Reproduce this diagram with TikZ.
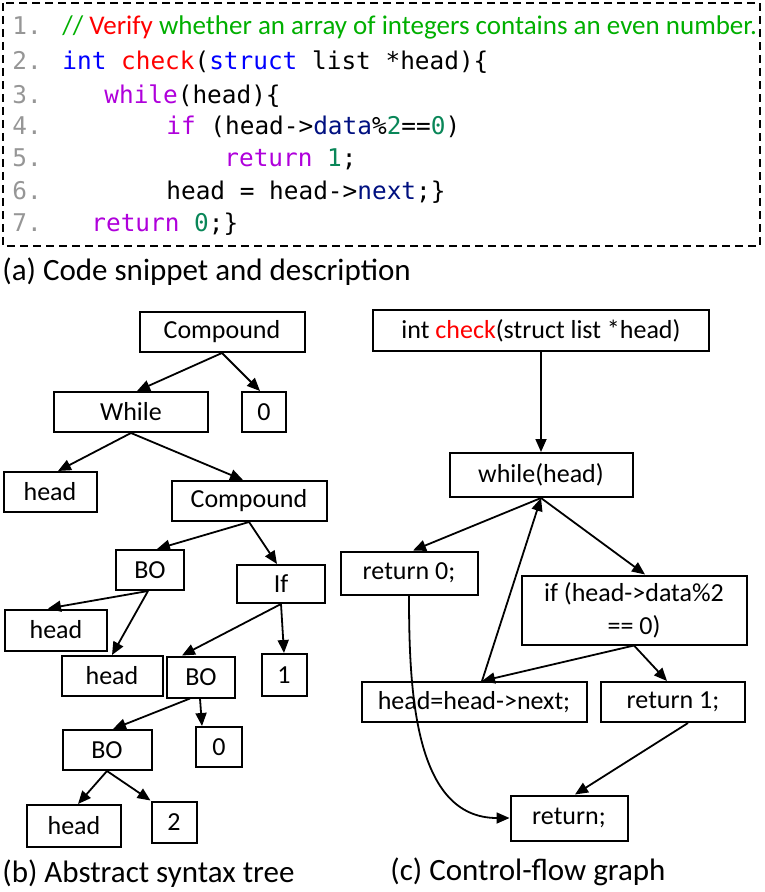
\documentclass[tikz,border=0pt]{standalone}
\usepackage{fontspec}
\setmainfont{Carlito}
\newfontfamily\codefont{DejaVu Sans Mono}
\usetikzlibrary{arrows.meta}
\definecolor{kwblue}{RGB}{0,0,255}
\definecolor{kwpurple}{RGB}{175,0,219}
\definecolor{fieldblue}{RGB}{0,16,128}
\definecolor{numgreen}{RGB}{9,134,88}
\definecolor{cmtgreen}{RGB}{0,175,0}
\definecolor{lngray}{RGB}{150,150,150}
\newcommand{\kw}[1]{\textcolor{kwpurple}{#1}}
\newcommand{\num}[1]{\textcolor{numgreen}{#1}}

\begin{document}
\begin{tikzpicture}[
    x=0.5pt, y=-0.5pt,
    box/.style={draw, line width=1pt, inner sep=0pt, minimum height=20pt, font=\fontsize{13}{16.5}\selectfont},
    arrow/.style={-{Triangle[length=6.5pt,width=5.5pt]}, line width=0.9pt},
    code/.style={anchor=base west, inner sep=0pt, font=\codefont\fontsize{12.2}{14}\selectfont},
    lineno/.style={code, text=lngray},
    caption/.style={anchor=west, inner sep=0pt, font=\fontsize{15.5}{18}\selectfont}
  ]
\useasboundingbox (0,0) rectangle (764,892);

% (a) code snippet
\draw[line width=1pt, dash pattern=on 4pt off 2.5pt] (3,3) rectangle (760,246);
\foreach \n/\y in {1/35,2/70,3/104,4/135,5/167,6/200,7/232}
  \node[lineno] (ln\n) at (12,\y) {\n.};
\node[anchor=base west, inner sep=0pt, font=\fontsize{13.5}{15}\selectfont, text=cmtgreen] (cmt) at (62,35)
  {// \textcolor{red}{Verify} whether an array of integers contains an even number.};
\node[code] (cl2) at (62,70) {\textcolor{kwblue}{int} \textcolor{red}{check}(\textcolor{kwblue}{struct} list *head)\{};
\node[code] (cl3) at (104,104) {\kw{while}(head)\{};
\node[code] (cl4) at (166,135) {\kw{if} (head->\textcolor{fieldblue}{data}\%\num{2}==\num{0})};
\node[code] (cl5) at (224,167) {\kw{return} \num{1};};
\node[code] (cl6) at (166,200) {head = head->\textcolor{fieldblue}{next};\}};
\node[code] (cl7) at (91,232) {\kw{return} \num{0};\}};
\node[caption] (capa) at (2,272) {(a) Code snippet and description};

% (b) abstract syntax tree
\node[box, minimum width=82.5pt] (cmpA) at (222,332) {Compound};
\node[box, minimum width=77pt] (whileA) at (131,412) {While};
\node[box, minimum width=22pt] (zeroA) at (264,412) {0};
\node[box, minimum width=46.5pt] (headA) at (50,492) {head};
\node[box, minimum width=77.5pt] (cmpB) at (249,501) {Compound};
\node[box, minimum width=34pt] (boA) at (150,570) {BO};
\node[box, minimum width=44pt, minimum height=19pt] (ifA) at (281,584) {If};
\node[box, minimum width=51pt, minimum height=20.5pt] (headB) at (56,630) {head};
\node[box, minimum width=50.5pt] (headC) at (112,676) {head};
\node[box, minimum width=34pt, minimum height=20.5pt] (boB) at (201,677) {BO};
\node[box, minimum width=22.5pt, minimum height=21pt] (oneA) at (284,675) {1};
\node[box, minimum width=23pt] (zeroB) at (219,747) {0};
\node[box, minimum width=44.5pt] (boC) at (107,750) {BO};
\node[box, minimum width=47pt, minimum height=21pt] (headD) at (74,826) {head};
\node[box, minimum width=22.5pt, minimum height=20.5pt] (twoA) at (174,822) {2};

\draw[arrow] (cmpA.south) -- ([xshift=3pt]whileA.north);
\draw[arrow] (cmpA.south) -- ([xshift=-2pt]zeroA.north);
\draw[arrow] (whileA.south) -- ([xshift=4pt]headA.north);
\draw[arrow] (whileA.south) -- ([xshift=-3pt]cmpB.north);
\draw[arrow] (cmpB.south) -- ([xshift=3.5pt]boA.north);
\draw[arrow] (cmpB.south) -- ([xshift=-2pt]ifA.north);
\draw[arrow] ([xshift=-1pt]boA.south) -- ([xshift=-4pt]headB.north);
\draw[arrow] ([xshift=-1pt]boA.south) -- (headC.north);
\draw[arrow] (ifA.south) -- ([xshift=-9.5pt]boB.north);
\draw[arrow] (ifA.south) -- (oneA.north);
\draw[arrow] ([xshift=-5.5pt]boB.south) -- ([xshift=3pt]boC.north);
\draw[arrow] ([xshift=-0.5pt]boB.south) -- ([xshift=-8.5pt]zeroB.north);
\draw[arrow] (boC.south) -- ([xshift=2pt]headD.north);
\draw[arrow] (boC.south) -- (twoA.north west);
\node[caption] (capb) at (2,874) {(b) Abstract syntax tree};

% (c) control-flow graph
\node[box, minimum width=168pt, minimum height=20.5pt] (func) at (541,331) {int \textcolor{red}{check}(struct list *head)};
\node[box, minimum width=91.5pt, minimum height=22pt] (whileB) at (541,475) {while(head)};
\node[box, minimum width=68.5pt, minimum height=21.5pt] (ret0) at (409,573) {return 0;};
\node[box, minimum width=112.5pt, minimum height=34.5pt, align=center] (ifB) at (634,610) {if (head->data\%2\\== 0)};
\node[box, minimum width=112.5pt] (next) at (474,702) {head=head->next;};
\node[box, minimum width=72pt] (ret1) at (673,702) {return 1;};
\node[box, minimum width=58.5pt, minimum height=22.5pt] (retE) at (569,818) {return;};

\draw[arrow] (func.south) -- (whileB.north);
\draw[arrow] (whileB.south) -- ([xshift=2pt]ret0.north);
\draw[arrow] (whileB.south) -- ([xshift=5.5pt]ifB.north);
\draw[arrow] ([xshift=4pt]next.north) -- (whileB.south);
\draw[arrow] (ifB.south) -- ([xshift=4pt]next.north);
\draw[arrow] (ifB.south) -- ([xshift=-3pt]ret1.north);
\draw[arrow] ([xshift=7.5pt]ret1.south) -- ([xshift=3pt]retE.north);
\draw[arrow] (ret0.south) to[out=-90, in=180] (retE.west);
\node[caption] (capc) at (390,872) {(c) Control-flow graph};
\end{tikzpicture}
\end{document}
